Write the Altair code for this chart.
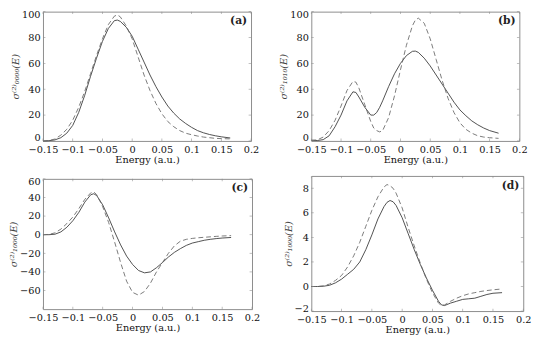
import altair as alt
import pandas as pd

# ---------------- data ----------------
x_a = [-0.15, -0.14, -0.13, -0.12, -0.11, -0.10, -0.09, -0.08, -0.07, -0.06, -0.05, -0.04, -0.03, -0.025,
       -0.02, -0.01, 0.0, 0.01, 0.02, 0.03, 0.04, 0.05, 0.06, 0.07, 0.08, 0.09, 0.10, 0.11, 0.12, 0.13,
       0.14, 0.15, 0.165]
a_solid = [0, 0.2, 0.8, 2.5, 6, 12, 22, 35, 50, 64, 77, 87, 93, 93.5,
           92.5, 88, 81, 71, 61, 51, 42, 34, 27, 21.5, 17, 13.5, 10.5, 8, 6.3, 5,
           4, 3.2, 2.3]
a_dashed = [0, 0.3, 1.5, 4.5, 9, 16, 26, 38, 52, 66, 79, 90, 96.5, 97.5,
            96, 89, 79, 65, 51, 39, 29, 21, 15, 11, 8, 6, 4.8, 3.8, 3, 2.5,
            2, 1.8, 1.6]

x_b = [-0.15, -0.14, -0.13, -0.12, -0.11, -0.10, -0.09, -0.08, -0.075, -0.07, -0.06, -0.05, -0.045, -0.04,
       -0.035, -0.03, -0.02, -0.01, 0.0, 0.01, 0.02, 0.025, 0.03, 0.04, 0.05, 0.06, 0.07, 0.08, 0.09, 0.10,
       0.11, 0.12, 0.13, 0.14, 0.15, 0.165]
b_solid = [0.5, 0.3, 1, 4, 11, 20, 31, 38, 37.5, 34, 26, 20, 20, 22,
           26, 31, 42, 52, 60, 66, 69.3, 69.5, 68.5, 64, 58, 51, 44, 37, 30, 24,
           19.5, 15.5, 12.5, 10, 8, 6]
b_dashed = [0.5, 0.8, 3, 8, 16, 27, 39, 46, 45.5, 41, 28, 15, 10, 8,
            7, 8, 18, 35, 55, 74, 89, 93.5, 95, 91, 79, 63, 47, 33, 22, 14,
            9, 6, 4, 3, 2.5, 2]

x_c = [-0.15, -0.14, -0.13, -0.12, -0.11, -0.10, -0.09, -0.08, -0.07, -0.065, -0.06, -0.05, -0.04, -0.03,
       -0.02, -0.01, 0.0, 0.01, 0.02, 0.03, 0.04, 0.05, 0.06, 0.07, 0.08, 0.09, 0.10, 0.11, 0.12, 0.13,
       0.14, 0.15, 0.165]
c_solid = [0, 0, 0.5, 3, 8, 15, 24, 35, 43, 44, 42, 32, 18, 3,
           -11, -23, -32, -38.5, -41, -40, -35.5, -30, -24, -19, -15, -11.5, -9, -7.5, -6, -5,
           -4.2, -3.6, -3]
c_dashed = [0, 0.3, 2, 6, 12, 19, 28, 38, 45, 46, 43, 30, 13, -8,
            -30, -50, -62, -65, -61, -52, -40, -30, -20, -12, -7, -5, -4, -3.3, -2.8, -2.3,
            -1.8, -1.4, -1]

x_d = [-0.15, -0.14, -0.13, -0.12, -0.11, -0.10, -0.09, -0.08, -0.07, -0.06, -0.05, -0.04, -0.03, -0.025,
       -0.02, -0.015, -0.01, 0.0, 0.01, 0.02, 0.03, 0.04, 0.05, 0.06, 0.065, 0.07, 0.08, 0.09, 0.10, 0.11,
       0.12, 0.13, 0.14, 0.15, 0.165]
d_solid = [0, 0, 0.02, 0.1, 0.3, 0.6, 1.0, 1.4, 2.0, 3.0, 4.2, 5.5, 6.5, 6.85,
           7.0, 6.9, 6.6, 5.6, 4.3, 3.0, 1.8, 0.7, -0.3, -1.2, -1.5, -1.55, -1.35, -1.2, -1.05, -1.0,
           -0.95, -0.8, -0.65, -0.55, -0.5]
d_dashed = [0, 0, 0.05, 0.2, 0.5, 0.9, 1.6, 2.5, 3.6, 4.9, 6.2, 7.3, 8.1, 8.3,
            8.2, 8.0, 7.6, 6.4, 4.8, 3.3, 1.9, 0.6, -0.5, -1.35, -1.55, -1.5, -1.2, -0.95, -0.75, -0.6,
            -0.5, -0.4, -0.33, -0.27, -0.2]

x_ticks = [-0.15, -0.1, -0.05, 0, 0.05, 0.1, 0.15, 0.2]
x_domain = [-0.15, 0.2]

FONT = "DejaVu Serif"
FRAME = "#8a8a8a"


def panel(x, solid, dashed, ydom, yticks, ytitle, letter, w, h):
    df = pd.DataFrame({"E": x, "solid": solid, "dashed": dashed})
    xs = alt.Scale(domain=x_domain, nice=False, zero=False)
    ys = alt.Scale(domain=ydom, nice=False, zero=False)
    xax = alt.Axis(values=x_ticks, format=".2~f", title="Energy (a.u.)", ticks=False,
                   domain=False, grid=False, labelPadding=4, titlePadding=0,
                   labelOverlap=False, labelFlush=False)
    yax = alt.Axis(values=yticks, format=".2~f", title=ytitle, ticks=False,
                   domain=False, grid=False, labelPadding=3, titlePadding=1,
                   labelOverlap=False, labelFlush=True, labelFlushOffset=2,
                   titleFontStyle="italic", titleColor="#444")
    base = alt.Chart(df)
    sol = base.mark_line(color="#3a3a3a", strokeWidth=0.9).encode(
        x=alt.X("E:Q", scale=xs, axis=xax, title="Energy (a.u.)"),
        y=alt.Y("solid:Q", scale=ys, axis=yax, title=ytitle),
    )
    das = base.mark_line(color="#6a6a6a", strokeWidth=0.9, strokeDash=[5, 3]).encode(
        x=alt.X("E:Q", scale=xs, axis=xax, title="Energy (a.u.)"),
        y=alt.Y("dashed:Q", scale=ys, axis=yax, title=ytitle),
    )
    xt = alt.Chart(pd.DataFrame({"t": x_ticks})).mark_tick(
        orient="vertical", size=2.5, thickness=0.8, color=FRAME)
    xb = xt.encode(x=alt.X("t:Q", scale=xs, axis=xax, title="Energy (a.u.)"), y=alt.value(h - 1.25))
    xtop = xt.encode(x=alt.X("t:Q", scale=xs, axis=xax, title="Energy (a.u.)"), y=alt.value(1.25))
    yt = alt.Chart(pd.DataFrame({"t": yticks})).mark_tick(
        orient="horizontal", size=2.5, thickness=0.8, color=FRAME)
    yl = yt.encode(y=alt.Y("t:Q", scale=ys, axis=yax, title=ytitle), x=alt.value(1.25))
    yr = yt.encode(y=alt.Y("t:Q", scale=ys, axis=yax, title=ytitle), x=alt.value(w - 1.25))
    lab = alt.Chart(pd.DataFrame({"label": [letter]})).mark_text(
        font=FONT, fontSize=11, fontWeight="bold", align="right", baseline="middle", color="#222"
    ).encode(text="label:N", x=alt.value(w - 4), y=alt.value(10))
    return alt.layer(sol, das, xb, xtop, yl, yr, lab).properties(width=w, height=h)


pa = panel(x_a, a_solid, a_dashed, [0, 100], [0, 20, 40, 60, 80, 100],
           "σ⁽²⁾₀₀₀₀(E)", "(a)", 214, 133)
pb = panel(x_b, b_solid, b_dashed, [0, 100], [0, 20, 40, 60, 80, 100],
           "σ⁽²⁾₁₀₁₀(E)", "(b)", 214, 133)
pc = panel(x_c, c_solid, c_dashed, [-80, 60], [-60, -40, -20, 0, 20, 40, 60],
           "σ⁽²⁾₁₀₀₀(E)", "(c)", 215, 134)
pd_ = panel(x_d, d_solid, d_dashed, [-2, 9], [-2, 0, 2, 4, 6, 8],
            "σ⁽²⁾₁₀₀₀(E)", "(d)", 218, 139)

chart = alt.hconcat(
    alt.vconcat(pa, pc, spacing=11),
    alt.vconcat(pb, pd_, spacing=10),
    spacing=18,
).properties(
    padding={"top": -4, "left": 0, "right": 0, "bottom": 0}, background="white"
).configure_view(
    stroke=FRAME, strokeWidth=1
).configure_axis(
    labelFont=FONT, titleFont=FONT, labelFontSize=10, titleFontSize=10,
    labelColor="#111", titleColor="#111", labelFontWeight="normal", titleFontWeight="normal"
)

chart.save("out.html", embed_options={"renderer": "svg", "actions": False})
